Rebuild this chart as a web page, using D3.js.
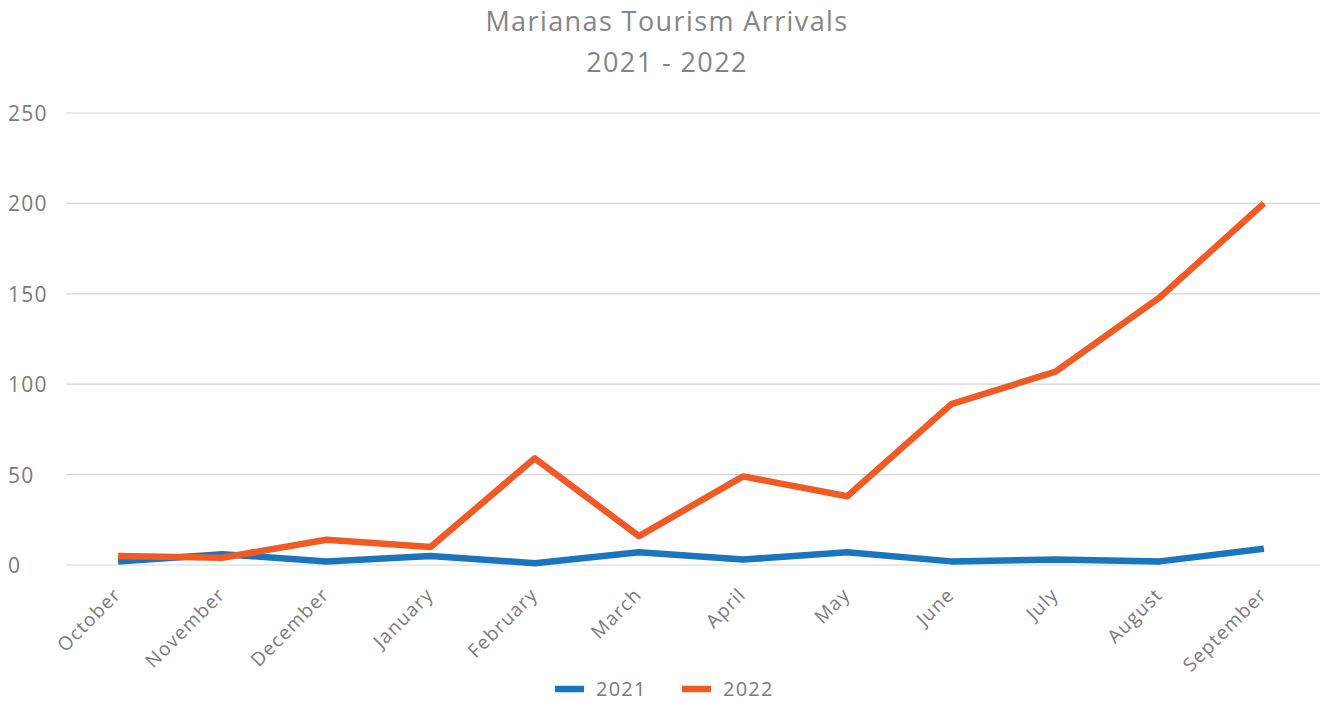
<!DOCTYPE html>
<html>
<head>
<meta charset="utf-8">
<script src="https://cdn.jsdelivr.net/npm/d3@7"></script>
<style>
  html, body { margin: 0; padding: 0; background: #ffffff; }
  svg { display: block; font-family: "Open Sans", "Lato", sans-serif; }
</style>
</head>
<body>
<svg id="chart" width="1320" height="702"></svg>
<script>
// Monthly arrivals, October through September
const months = ["October", "November", "December", "January", "February", "March",
                "April", "May", "June", "July", "August", "September"];
const arrivals2021 = [2, 6, 2, 5, 1, 7, 3, 7, 2, 3, 2, 9];
const arrivals2022 = [5, 4, 14, 10, 59, 16, 49, 38, 89, 107, 148, 200];
const yTicks = [0, 50, 100, 150, 200, 250];
const seriesNames = ["2021", "2022"];
const seriesColors = ["#1b75bc", "#f15a24"];

const svg = d3.select("#chart");
const W = 1320;

const x = d3.scalePoint().domain(months).range([66, 1316]).padding(0.5);
const y = d3.scaleLinear().domain([0, 250]).range([565, 113]);

// Title
const titleStyle = sel => sel.attr("text-anchor", "middle").attr("fill", "#858585")
  .attr("font-size", 27).attr("letter-spacing", 1.4);
svg.append("text").attr("x", 667).attr("y", 31).call(titleStyle).text("Marianas Tourism Arrivals");
svg.append("text").attr("x", 667).attr("y", 72).call(titleStyle).text("2021 - 2022");

// Horizontal gridlines
svg.append("g").selectAll("line").data(yTicks).join("line")
  .attr("x1", 66).attr("x2", W)
  .attr("y1", d => y(d)).attr("y2", d => y(d))
  .attr("stroke", "#d6d6d6").attr("stroke-width", 1.2);

// Y axis labels
svg.append("g").selectAll("text").data(yTicks).join("text")
  .attr("x", 8).attr("y", d => y(d) + 8)
  .attr("fill", "#7a7a7a").attr("font-size", 21).attr("letter-spacing", 1.2)
  .text(d => d);

// X axis labels, rotated
svg.append("g").selectAll("text").data(months).join("text")
  .attr("transform", d => `translate(${x(d) + 4},${596}) rotate(-45)`)
  .attr("text-anchor", "end")
  .attr("fill", "#7a7a7a").attr("font-size", 19).attr("letter-spacing", 1.2)
  .text(d => d);

// Lines
const line = d3.line().x((d, i) => x(months[i])).y(d => y(d));
[arrivals2021, arrivals2022].forEach((vals, k) => {
  svg.append("path").datum(vals)
    .attr("d", line)
    .attr("fill", "none")
    .attr("stroke", seriesColors[k])
    .attr("stroke-width", 6.5)
    .attr("stroke-linejoin", "round");
});

// Legend
const legend = svg.append("g");
const legendX = [555, 682];
seriesNames.forEach((name, k) => {
  legend.append("line")
    .attr("x1", legendX[k]).attr("x2", legendX[k] + 29)
    .attr("y1", 689).attr("y2", 689)
    .attr("stroke", seriesColors[k]).attr("stroke-width", 6.5);
  legend.append("text")
    .attr("x", legendX[k] + 41).attr("y", 696)
    .attr("fill", "#7a7a7a").attr("font-size", 20).attr("letter-spacing", 1.2)
    .text(name);
});
</script>
</body>
</html>
